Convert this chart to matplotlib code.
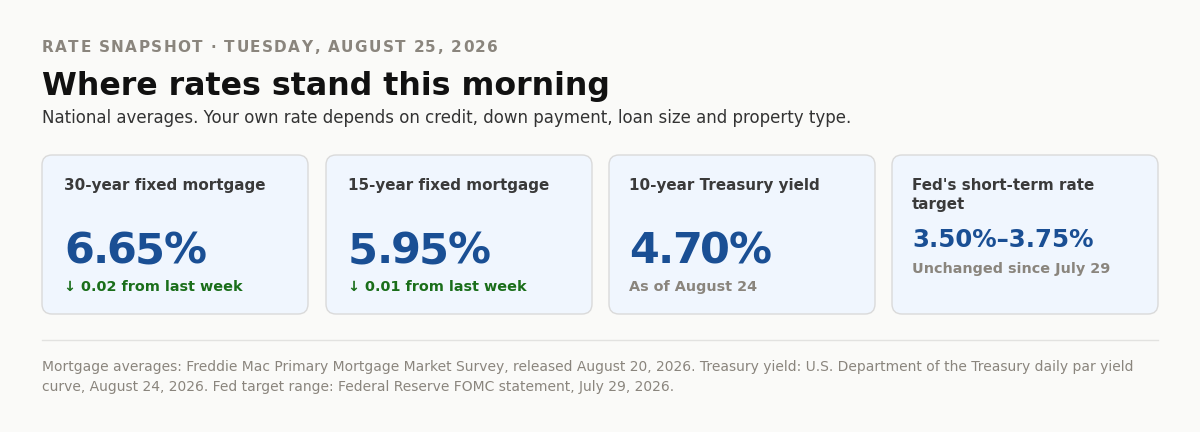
import matplotlib
matplotlib.use("Agg")
import matplotlib.pyplot as plt
from matplotlib.patches import FancyBboxPatch
from matplotlib import font_manager as fm
from matplotlib.ft2font import FT2Font

plt.rcParams['font.family'] = ['DejaVu Sans']

kicker = "RATE SNAPSHOT · TUESDAY, AUGUST 25, 2026"
title = "Where rates stand this morning"
subtitle = "National averages. Your own rate depends on credit, down payment, loan size and property type."
card_labels = [["30-year fixed mortgage"], ["15-year fixed mortgage"], ["10-year Treasury yield"],
               ["Fed's short-term rate", "target"]]
card_values = ["6.65%", "5.95%", "4.70%", "3.50%–3.75%"]
card_notes = ["↓ 0.02 from last week", "↓ 0.01 from last week", "As of August 24",
              "Unchanged since July 29"]
note_kinds = ["down", "down", "neutral", "neutral"]
footer_lines = [
    "Mortgage averages: Freddie Mac Primary Mortgage Market Survey, released August 20, 2026. Treasury yield: U.S. Department of the Treasury daily par yield",
    "curve, August 24, 2026. Fed target range: Federal Reserve FOMC statement, July 29, 2026.",
]

W, H = 1200, 432
DPI = 100
BG = "#fafaf8"
fig = plt.figure(figsize=(W / DPI, H / DPI), dpi=DPI, facecolor=BG)
ax = fig.add_axes([0, 0, 1, 1])
ax.set_xlim(0, W)
ax.set_ylim(H, 0)
ax.axis("off")
ax.set_facecolor(BG)

BOLD_PATH = fm.findfont(fm.FontProperties(family="DejaVu Sans", weight="bold"))


def spaced_text(x, y, s, spacing, size, **kw):
    # draw a string with letter spacing (pixels) using true glyph advances
    font = FT2Font(BOLD_PATH)
    font.set_size(size, DPI)
    for ch in s:
        ax.text(x, y, ch, fontsize=size, fontweight="bold", va="baseline", **kw)
        g = font.load_char(ord(ch))
        x += g.linearHoriAdvance / 65536 + spacing


spaced_text(42, 52, kicker, 1.4, 10.95, color="#8a857d")
ax.text(42, 95, title, fontsize=22.8, fontweight="bold", color="#111111", va="baseline")
ax.text(42, 123, subtitle, fontsize=12, color="#333333", va="baseline")

card_x = [42, 326, 609, 892]
card_w = 266
card_top, card_bot = 155, 314
for i in range(4):
    x0 = card_x[i]
    box = FancyBboxPatch((x0, card_top), card_w, card_bot - card_top,
                         boxstyle="round,pad=0,rounding_size=10",
                         facecolor="#f0f6fe", edgecolor="#dadada", linewidth=1.0)
    ax.add_patch(box)
    tx = x0 + 22 if i < 2 else x0 + 20
    for j, line in enumerate(card_labels[i]):
        ax.text(tx, 190 + 19.5 * j, line, fontsize=10.9, fontweight="bold", color="#3a3a3a",
                va="baseline")
    if len(card_labels[i]) > 1:
        ax.text(tx, 247, card_values[i], fontsize=17.6, fontweight="bold", color="#1a4f94", va="baseline")
        ny = 273
    else:
        spaced_text(tx, 263, card_values[i], -1.7, 31, color="#1a4f94")
        ny = 291
    ncol = "#1a6e1a" if note_kinds[i] == "down" else "#8a857d"
    ax.text(tx, ny, card_notes[i], fontsize=10.4, fontweight="bold", color=ncol, va="baseline")

ax.plot([42, 1158], [340, 340], color="#e2e2e0", linewidth=1.0)
for k, line in enumerate(footer_lines):
    ax.text(42, 371 + 20 * k, line, fontsize=10, color="#8a857d", va="baseline")

fig.savefig("out.png", dpi=DPI, facecolor=BG)
